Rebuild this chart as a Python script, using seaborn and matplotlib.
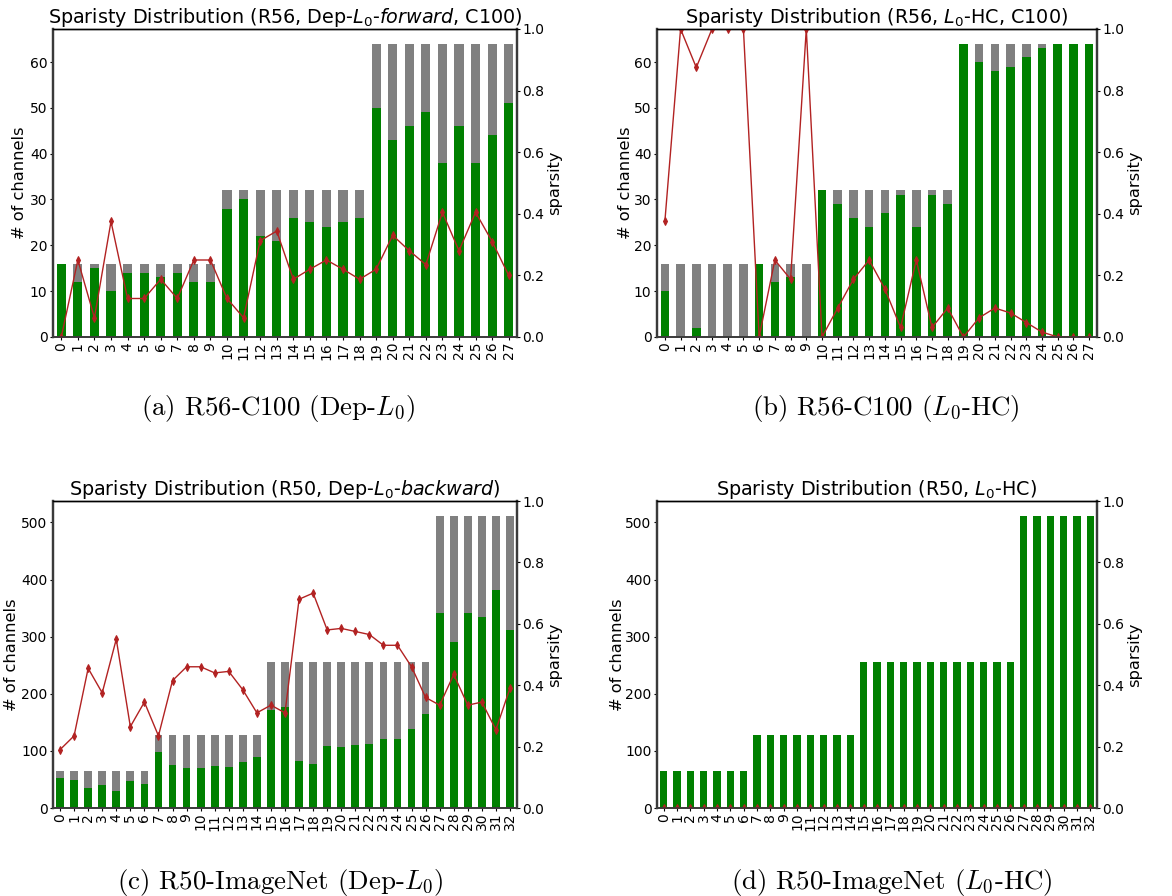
import matplotlib
matplotlib.use("Agg")
import matplotlib.pyplot as plt
import seaborn as sns
import numpy as np

# ---------------- data ----------------
a_layers = list(range(28))
a_total = [16, 16, 16, 16, 16, 16, 16, 16, 16, 16, 32, 32, 32, 32, 32, 32, 32, 32, 32,
           64, 64, 64, 64, 64, 64, 64, 64, 64]
a_green = [16, 12, 15, 10, 14, 14, 13, 14, 12, 12, 28, 30, 22, 21, 26, 25, 24, 25, 26,
           50, 43, 46, 49, 38, 46, 38, 44, 51]
a_sparsity = [0.0, 0.25, 0.0625, 0.375, 0.125, 0.125, 0.1875, 0.125, 0.25, 0.25, 0.125, 0.0625,
              0.3125, 0.344, 0.1875, 0.22, 0.25, 0.22, 0.1875, 0.22, 0.33, 0.28, 0.235, 0.405,
              0.28, 0.405, 0.31, 0.20]

b_layers = list(range(28))
b_total = [16, 16, 16, 16, 16, 16, 16, 16, 16, 16, 32, 32, 32, 32, 32, 32, 32, 32, 32,
           64, 64, 64, 64, 64, 64, 64, 64, 64]
b_green = [10, 0, 2, 0, 0, 0, 16, 12, 13, 0, 32, 29, 26, 24, 27, 31, 24, 31, 29,
           64, 60, 58, 59, 61, 63, 64, 64, 64]
b_sparsity = [0.375, 1.0, 0.875, 1.0, 1.0, 1.0, 0.0, 0.25, 0.1875, 1.0, 0.0, 0.094, 0.1875, 0.25,
              0.156, 0.031, 0.25, 0.031, 0.094, 0.0, 0.0625, 0.094, 0.078, 0.047, 0.016, 0.0,
              0.0, 0.0]

c_layers = list(range(33))
c_total = [64, 64, 64, 64, 64, 64, 64, 128, 128, 128, 128, 128, 128, 128, 128,
           256, 256, 256, 256, 256, 256, 256, 256, 256, 256, 256, 256,
           512, 512, 512, 512, 512, 512]
c_green = [52, 49, 35, 40, 29, 47, 42, 98, 75, 70, 70, 73, 71, 80, 89, 171, 176, 82, 77,
           108, 106, 110, 112, 120, 120, 138, 164, 341, 290, 341, 334, 381, 311]
c_sparsity = [0.19, 0.235, 0.455, 0.375, 0.55, 0.265, 0.345, 0.235, 0.415, 0.46, 0.46, 0.44,
              0.445, 0.385, 0.31, 0.335, 0.31, 0.68, 0.70, 0.58, 0.585, 0.575, 0.565, 0.53,
              0.53, 0.46, 0.36, 0.335, 0.435, 0.335, 0.345, 0.255, 0.39]

d_layers = list(range(33))
d_total = [64, 64, 64, 64, 64, 64, 64, 128, 128, 128, 128, 128, 128, 128, 128,
           256, 256, 256, 256, 256, 256, 256, 256, 256, 256, 256, 256,
           512, 512, 512, 512, 512, 512]
d_green = [64, 64, 64, 64, 64, 64, 64, 128, 128, 128, 128, 128, 128, 128, 128,
           256, 256, 256, 256, 256, 256, 256, 256, 256, 256, 256, 256,
           512, 512, 512, 512, 512, 512]
d_sparsity = [0.0, 0.0, 0.0, 0.0, 0.0, 0.0, 0.0, 0.0, 0.0, 0.0, 0.0, 0.0, 0.0, 0.0, 0.0,
              0.0, 0.0, 0.0, 0.0, 0.0, 0.0, 0.0, 0.0, 0.0, 0.0, 0.0, 0.0, 0.0, 0.0, 0.0,
              0.0, 0.0, 0.0]

titles = [
    r"Sparisty Distribution (R56, Dep-$L_0$-$\it{forward}$, C100)",
    r"Sparisty Distribution (R56, $L_0$-HC, C100)",
    r"Sparisty Distribution (R50, Dep-$L_0$-$\it{backward}$)",
    r"Sparisty Distribution (R50, $L_0$-HC)",
]
captions = [
    r"(a) R56-C100 (Dep-$L_0$)",
    r"(b) R56-C100 ($L_0$-HC)",
    r"(c) R50-ImageNet (Dep-$L_0$)",
    r"(d) R50-ImageNet ($L_0$-HC)",
]

# ---------------- figure ----------------
W, H = 1172, 896
fig = plt.figure(figsize=(W / 100, H / 100), dpi=100)

# axes boxes in pixel coords: left, right, top, bottom
boxes = [(53, 517, 29, 337), (657, 1097, 29, 337),
         (53, 517, 501, 808), (657, 1097, 501, 808)]
# right edge of the left y-label (pixels)
ylab_right = [27, 633, 19, 625]
cap_pos = [(278, 408), (886, 408), (280, 882), (892, 882)]

panels = [
    (a_layers, a_total, a_green, a_sparsity),
    (b_layers, b_total, b_green, b_sparsity),
    (c_layers, c_total, c_green, c_sparsity),
    (d_layers, d_total, d_green, d_sparsity),
]

LINE_C = "#b22222"
SPINE_C = "#3a3a3a"
TICK_FS = 10
LAB_FS = 11.7

for i, (layers, total, green, spars) in enumerate(panels):
    l, r, t, b = boxes[i]
    aw = r - l
    ax = fig.add_axes([l / W, 1 - b / H, aw / W, (b - t) / H])
    sns.barplot(x=layers, y=total, color="gray", width=0.55, saturation=1,
                errorbar=None, ax=ax)
    sns.barplot(x=layers, y=green, color="green", width=0.55, saturation=1,
                errorbar=None, ax=ax)
    n = len(layers)
    ax.set_ylim(0, max(total) * 1.05)
    ax.set_ylabel("# of channels", fontsize=LAB_FS)
    ax.yaxis.set_label_coords((ylab_right[i] - l) / aw, 0.5)
    ax.set_xlabel("")
    ax.tick_params(axis="x", labelrotation=90, labelsize=TICK_FS, length=2.5, pad=1)
    ax.tick_params(axis="y", labelsize=TICK_FS, length=2.5, pad=1.5)

    ax2 = ax.twinx()
    sns.lineplot(x=layers, y=spars, ax=ax2, color=LINE_C, marker="d",
                 markersize=4, linewidth=1.0, markeredgecolor=LINE_C)
    ax2.set_ylim(0, 1.0)
    ax2.set_ylabel("sparsity", fontsize=LAB_FS, labelpad=2)
    ax2.tick_params(axis="y", labelsize=TICK_FS, length=2.5, pad=1.5)
    ax.set_xlim(-0.5, n - 0.5)
    ax2.set_xlim(-0.5, n - 0.5)

    for a in (ax, ax2):
        for side in ("left", "right"):
            a.spines[side].set_color(SPINE_C)
            a.spines[side].set_linewidth(1.6)
        a.spines["bottom"].set_color(SPINE_C)
        a.spines["bottom"].set_linewidth(1.2)
        a.spines["top"].set_linewidth(1.0)

    ax.set_title(titles[i], fontsize=13.8, pad=3)

    cx, cy = cap_pos[i]
    fig.text(cx / W, 1 - cy / H, captions[i], ha="center", va="center",
             fontsize=19.4, family="cmr10", math_fontfamily="cm")

fig.savefig("out.png", dpi=100)
